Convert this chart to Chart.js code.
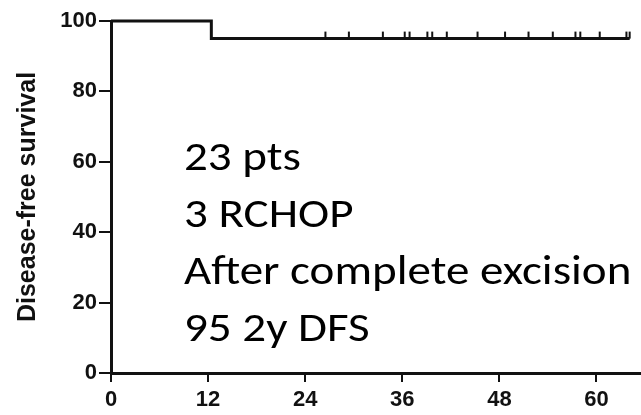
<!DOCTYPE html>
<html lang="en">
<head>
    <meta charset="UTF-8">
    <title>Disease-free survival</title>
    <script src="https://cdn.jsdelivr.net/npm/chart.js"></script>
    <style>
        body { margin: 0; background: #fff; }
        #wrap { position: relative; width: 641px; height: 415px; overflow: hidden; }
        #notes {
            position: absolute; left: 184px; top: 127px;
            font-family: Carlito, Calibri, Lato, sans-serif;
            font-size: 42px; line-height: 57px; color: #000;
            white-space: nowrap;
            transform: scaleX(1.12); transform-origin: left top;
        }
    </style>
</head>
<body>
    <div id="wrap">
        <canvas id="kmChart" width="641" height="415"></canvas>
        <div id="notes">
            <div>23 pts</div>
            <div>3 RCHOP</div>
            <div>After complete excision</div>
            <div>95 2y DFS</div>
        </div>
    </div>

    <script>
        // Kaplan-Meier step curve (months, %)
        const stepTimes = [0, 12.4, 64.1];
        const stepSurvival = [100, 95, 95];

        // censored patients
        const censorTimes = [26.5, 29.4, 33.6, 36.3, 36.9, 39.1, 39.7, 41.5, 45.3, 48.7, 51.6, 54.6, 57.4, 58.0, 60.4, 63.7, 64.1];
        const censorSurvival = [95, 95, 95, 95, 95, 95, 95, 95, 95, 95, 95, 95, 95, 95, 95, 95, 95];

        const xTicks = [0, 12, 24, 36, 48, 60];
        const yTicks = [0, 20, 40, 60, 80, 100];

        const censorMarks = {
            id: 'censorMarks',
            afterDatasetsDraw(chart) {
                const { ctx, scales: { x, y } } = chart;
                ctx.save();
                ctx.strokeStyle = '#111';
                ctx.lineWidth = 2;
                censorTimes.forEach((t, i) => {
                    const px = x.getPixelForValue(t);
                    const py = y.getPixelForValue(censorSurvival[i]);
                    ctx.beginPath();
                    ctx.moveTo(px, py);
                    ctx.lineTo(px, py - 7);
                    ctx.stroke();
                });
                ctx.restore();
            }
        };

        const tickFont = { family: '"Liberation Sans", Arial, sans-serif', size: 22, weight: 'bold' };

        new Chart(document.getElementById('kmChart'), {
            type: 'line',
            data: {
                datasets: [{
                    data: stepTimes.map((t, i) => ({ x: t, y: stepSurvival[i] })),
                    stepped: true,
                    borderColor: '#111',
                    borderWidth: 3,
                    pointRadius: 0,
                    fill: false,
                    clip: false
                }]
            },
            options: {
                responsive: false,
                devicePixelRatio: 1,
                animation: false,
                layout: { padding: { top: 21, right: 0, left: 0, bottom: 0 } },
                plugins: { legend: { display: false }, tooltip: { enabled: false } },
                scales: {
                    x: {
                        type: 'linear',
                        min: 0,
                        max: 65.5,
                        afterBuildTicks: s => { s.ticks = xTicks.map(v => ({ value: v })); },
                        afterFit: s => { s.height = 42; },
                        ticks: { color: '#111', font: tickFont, padding: 5, maxRotation: 0 },
                        grid: { drawOnChartArea: false, drawTicks: true, tickLength: 9, color: '#111', lineWidth: 2 },
                        border: { color: '#111', width: 3 }
                    },
                    y: {
                        min: 0,
                        max: 100,
                        afterBuildTicks: s => { s.ticks = yTicks.map(v => ({ value: v })); },
                        afterFit: s => { s.width = 111; },
                        ticks: { color: '#111', font: tickFont, padding: 2 },
                        grid: { drawOnChartArea: false, drawTicks: true, tickLength: 12, color: '#111', lineWidth: 2 },
                        border: { color: '#111', width: 3 },
                        title: {
                            display: true,
                            text: 'Disease-free survival',
                            color: '#111',
                            font: { family: '"Liberation Sans", Arial, sans-serif', size: 25, weight: 'bold' },
                            padding: { top: 13, bottom: 0 }
                        }
                    }
                }
            },
            plugins: [censorMarks]
        });
    </script>
</body>
</html>
